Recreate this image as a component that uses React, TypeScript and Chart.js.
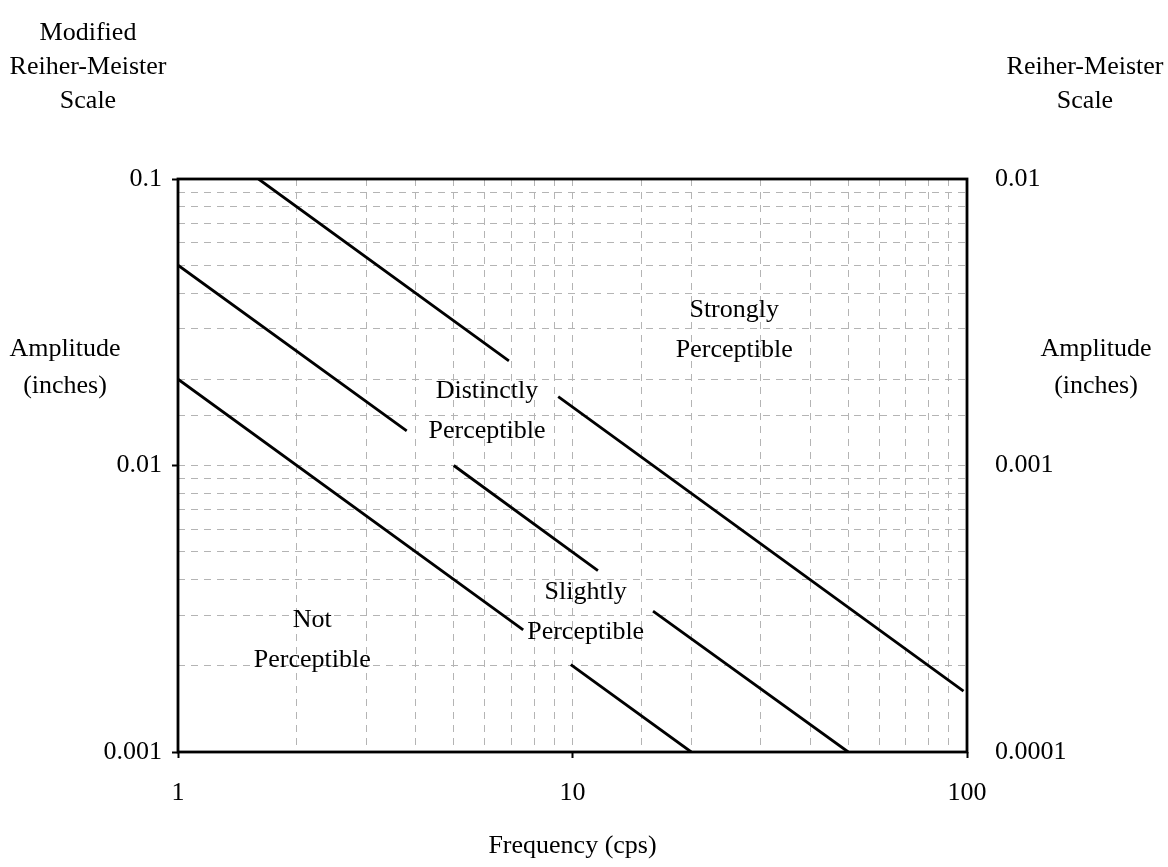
import React, { useEffect, useRef } from "react";
import { Chart, registerables } from "chart.js";

Chart.register(...registerables);

// Frequency (cps) / amplitude (inches) pairs for each perception boundary; null marks a break
const strongFreq = [1.6, 6.9, null, 9.2, 98];
const strongAmp = [0.1, 0.0232, null, 0.0174, 0.00163];

const distinctFreq = [1, 3.8, null, 5.0, 11.6, null, 16, 50];
const distinctAmp = [0.05, 0.0132, null, 0.01, 0.0043, null, 0.0031, 0.001];

const slightFreq = [1, 7.5, null, 9.9, 20];
const slightAmp = [0.02, 0.00267, null, 0.00202, 0.001];

// Region labels: centre of each two-line block, in data units
const regionLines = [
  ["Strongly", "Perceptible"],
  ["Distinctly", "Perceptible"],
  ["Slightly", "Perceptible"],
  ["Not", "Perceptible"],
];
const regionFreq = [25.7, 6.07, 10.8, 2.19];
const regionAmp = [0.0297, 0.0155, 0.00308, 0.00246];

// Tick labels by decade exponent
const leftTickLabels: Record<string, string> = { "-3": "0.001", "-2": "0.01", "-1": "0.1" };
const rightTickLabels: Record<string, string> = { "-4": "0.0001", "-3": "0.001", "-2": "0.01" };
const freqTickLabels: Record<string, string> = { "0": "1", "1": "10", "2": "100" };

const FONT = '"Liberation Serif", "Times New Roman", serif';
const W = 1168;
const H = 867;

const decade = (v: number) => {
  const e = Math.log10(v);
  return Math.abs(e - Math.round(e)) < 1e-6 ? String(Math.round(e)) : null;
};

const toPoints = (fs: (number | null)[], as: (number | null)[]) =>
  fs.map((f, i) => {
    const prev = fs[i - 1] ?? 1;
    return f === null ? { x: prev as number, y: null } : { x: f, y: as[i] };
  });

const lineDataset = (fs: (number | null)[], as: (number | null)[]) => ({
  data: toPoints(fs, as),
  borderColor: "#000",
  borderWidth: 2.8,
  pointRadius: 0,
  tension: 0,
  spanGaps: false,
  yAxisID: "y",
});

const textPlugin = {
  id: "chartText",
  afterDraw(chart: any) {
    const { ctx, chartArea, scales } = chart;
    ctx.save();
    // frame
    ctx.strokeStyle = "#000";
    ctx.lineWidth = 2.8;
    ctx.strokeRect(chartArea.left, chartArea.top, chartArea.right - chartArea.left, chartArea.bottom - chartArea.top);

    ctx.fillStyle = "#000";
    ctx.textAlign = "center";
    ctx.textBaseline = "middle";
    ctx.font = `26px ${FONT}`;

    const lines = (items: string[], cx: number, top: number, gap: number) => {
      items.forEach((t, i) => ctx.fillText(t, cx, top + i * gap));
    };

    lines(["Modified", "Reiher-Meister", "Scale"], 88, 33, 34);
    lines(["Reiher-Meister", "Scale"], 1085, 67, 34);
    lines(["Amplitude", "(inches)"], 65, 349, 37);
    lines(["Amplitude", "(inches)"], 1096, 349, 37);
    ctx.fillText("Frequency (cps)", (chartArea.left + chartArea.right) / 2, 846);

    regionLines.forEach((items, i) => {
      const cx = scales.x.getPixelForValue(regionFreq[i]);
      const cy = scales.y.getPixelForValue(regionAmp[i]);
      lines(items, cx, cy - 20, 40);
    });
    ctx.restore();
  },
};

export default function App() {
  const ref = useRef<HTMLCanvasElement | null>(null);

  useEffect(() => {
    if (!ref.current) return;
    const isMajor = (v: number) => decade(v) !== null;
    const chart = new Chart(ref.current, {
      type: "line",
      data: {
        datasets: [
          lineDataset(strongFreq, strongAmp),
          lineDataset(distinctFreq, distinctAmp),
          lineDataset(slightFreq, slightAmp),
        ],
      },
      options: {
        animation: false,
        responsive: false,
        devicePixelRatio: 1,
        layout: { padding: { top: 179, left: 0, right: 0, bottom: 0 } },
        plugins: { legend: { display: false }, tooltip: { enabled: false } },
        scales: {
          x: {
            type: "logarithmic",
            position: "bottom",
            min: 1,
            max: 100,
            afterFit: (s: any) => {
              s.height = H - 752;
            },
            border: { display: false, dash: [7, 6] },
            grid: {
              color: "#b4b4b4",
              lineWidth: 1,
              tickLength: 6,
              tickWidth: 2,
              tickColor: (c: any) => (isMajor(c.tick.value) ? "#000" : "rgba(0,0,0,0)"),
            },
            ticks: {
              autoSkip: false,
              maxRotation: 0,
              padding: 20,
              color: "#000",
              font: { family: FONT, size: 26 },
              callback: (v: any) => {
                const d = decade(Number(v));
                return d !== null ? freqTickLabels[d] ?? "" : "";
              },
            },
          },
          y: {
            type: "logarithmic",
            position: "left",
            min: 0.001,
            max: 0.1,
            afterFit: (s: any) => {
              s.width = 178;
            },
            border: { display: false, dash: [7, 6] },
            grid: {
              color: "#b4b4b4",
              lineWidth: 1,
              tickLength: 6,
              tickWidth: 2,
              tickColor: (c: any) => (isMajor(c.tick.value) ? "#000" : "rgba(0,0,0,0)"),
            },
            ticks: {
              autoSkip: false,
              padding: 10,
              color: "#000",
              font: { family: FONT, size: 26 },
              callback: (v: any) => {
                const d = decade(Number(v));
                return d !== null ? leftTickLabels[d] ?? "" : "";
              },
            },
          },
          y2: {
            type: "logarithmic",
            position: "right",
            min: 0.0001,
            max: 0.01,
            afterFit: (s: any) => {
              s.width = W - 967;
            },
            border: { display: false },
            grid: { drawOnChartArea: false, drawTicks: false },
            ticks: {
              autoSkip: false,
              padding: 28,
              color: "#000",
              font: { family: FONT, size: 26 },
              callback: (v: any) => {
                const d = decade(Number(v));
                return d !== null ? rightTickLabels[d] ?? "" : "";
              },
            },
          },
        },
      },
      plugins: [textPlugin],
    } as any);
    return () => chart.destroy();
  }, []);

  return (
    <div style={{ position: "fixed", left: 0, top: 0, width: W, height: H, background: "#fff" }}>
      <canvas ref={ref} width={W} height={H} style={{ width: W, height: H }} />
    </div>
  );
}
